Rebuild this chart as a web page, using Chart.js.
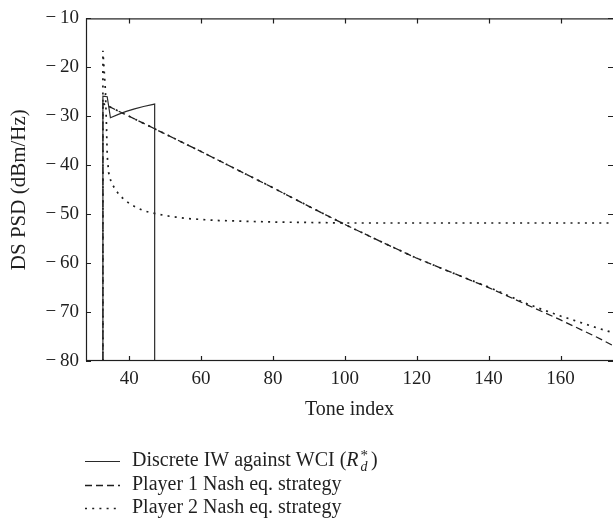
<!DOCTYPE html>
<html><head><meta charset="utf-8">
<script src="https://cdn.jsdelivr.net/npm/chart.js@4/dist/chart.umd.min.js"></script>
<style>html,body{margin:0;padding:0;background:#fff}#wrap{position:relative;width:613px;height:529px}</style>
</head><body><div id="wrap"><canvas id="c" width="613" height="529"></canvas></div>
<script>
// ---- data ----
const xTicks = [40, 60, 80, 100, 120, 140, 160];
const yTicks = [-80, -70, -60, -50, -40, -30, -20, -10];

const iwTone = [32.7, 32.7, 33.9, 34.8, 37.0, 39.2, 41.5, 44.0, 47.1, 47.1];
const iwPsd  = [-80, -25.9, -26.0, -30.3, -29.6, -29.0, -28.5, -28.0, -27.5, -80];

const p1Tone = [32.7, 32.7, 40, 50, 60, 70, 80, 90, 100, 110, 120, 130, 140, 150, 160, 170, 175];
const p1Psd  = [-80, -27.4, -30.0, -33.6, -37.2, -40.9, -44.6, -48.4, -52.1, -55.6, -59.0, -62.0, -65.0, -68.3, -71.6, -75.1, -77.0];

const p2Tone = [32.7, 32.7, 33.0, 33.4, 33.7, 33.9, 34.3, 35.0, 36.2, 37.4, 38.8, 40.4, 42.2, 44.1, 46.1, 48.1, 50.1, 53.0, 56.2, 60.4, 65, 70, 80, 90, 100, 175];
const p2Psd  = [-80, -16.6, -20.0, -24.7, -32.0, -38.0, -41.5, -43.5, -45.0, -46.2, -47.1, -48.0, -48.7, -49.3, -49.7, -50.0, -50.3, -50.6, -50.9, -51.1, -51.3, -51.4, -51.6, -51.7, -51.8, -51.8];

const p2bTone = [32.7, 40, 50, 60, 70, 80, 90, 100, 110, 120, 130, 140, 145, 150, 155, 160, 165, 170, 175];
const p2bPsd  = [-27.4, -30.0, -33.6, -37.2, -40.9, -44.6, -48.4, -52.1, -55.6, -59.0, -62.0, -64.9, -66.5, -68.1, -69.5, -70.8, -72.0, -73.2, -74.3];

const seriesNames = ['Discrete IW against WCI (', 'Player 1 Nash eq. strategy', 'Player 2 Nash eq. strategy'];

// ---- styling ----
const FONT = '"Liberation Serif", "Times New Roman", serif';
const INK = '#1f1f1f';
const pts = (xs, ys) => xs.map((x, i) => ({x, y: ys[i]}));

const solid = [], dashed = [7, 4], dotted = [2, 5.2];

const datasets = [
  {label: seriesNames[0], data: pts(iwTone, iwPsd), borderColor: '#2a2a2a', borderWidth: 1.2, borderDash: solid, inLegend: true, rich: true},
  {label: seriesNames[1], data: pts(p1Tone, p1Psd), borderColor: INK, borderWidth: 1.3, borderDash: dashed, inLegend: true},
  {label: seriesNames[2], data: pts(p2Tone, p2Psd), borderColor: INK, borderWidth: 1.7, borderDash: dotted, inLegend: true},
  {label: seriesNames[2], data: pts(p2bTone, p2bPsd), borderColor: INK, borderWidth: 1.7, borderDash: dotted, inLegend: false}
].map(d => Object.assign({pointRadius: 0, tension: 0, fill: false, borderCapStyle: 'butt'}, d));

const frame = {
  id: 'frame',
  afterDatasetsDraw(chart) {
    const {ctx, chartArea: a, scales: {x, y}} = chart;
    ctx.save();
    ctx.strokeStyle = INK; ctx.lineWidth = 1.2;
    // box: right edge sits just past the canvas edge, as in the reference
    ctx.strokeRect(a.left + 0.5, a.top + 0.5, a.right - a.left + 1, a.bottom - a.top - 1);
    const L = 5;
    ctx.beginPath();
    xTicks.forEach(v => {
      const px = Math.round(x.getPixelForValue(v)) + 0.5;
      ctx.moveTo(px, a.bottom); ctx.lineTo(px, a.bottom - L);
      ctx.moveTo(px, a.top); ctx.lineTo(px, a.top + L);
    });
    yTicks.forEach(v => {
      const py = Math.round(y.getPixelForValue(v)) + 0.5;
      ctx.moveTo(a.left, py); ctx.lineTo(a.left + L, py);
      ctx.moveTo(a.right, py); ctx.lineTo(a.right - L, py);
    });
    ctx.stroke();
    ctx.restore();
  },
  afterDraw(chart) {
    const {ctx} = chart;
    ctx.save();
    const rows = chart.data.datasets.filter(d => d.inLegend);
    const y0 = 461, dy = 23.6, lx0 = 85, lx1 = 120, tx = 132;
    rows.forEach((d, i) => {
      const yy = y0 + i * dy;
      ctx.strokeStyle = d.borderColor; ctx.lineWidth = d.borderWidth;
      ctx.setLineDash(d.borderDash);
      ctx.beginPath(); ctx.moveTo(lx0, Math.round(yy) + 0.5); ctx.lineTo(lx1, Math.round(yy) + 0.5); ctx.stroke();
      ctx.setLineDash([]);
      ctx.fillStyle = INK; ctx.textBaseline = 'middle'; ctx.textAlign = 'left';
      ctx.font = '20px ' + FONT;
      let cx = tx;
      ctx.fillText(d.label, cx, yy);
      cx += ctx.measureText(d.label).width;
      if (d.rich) {
        ctx.font = 'italic 20px ' + FONT;
        ctx.fillText('R', cx, yy); cx += ctx.measureText('R').width + 1;
        ctx.font = 'italic 14px ' + FONT;
        ctx.fillText('d', cx + 1, yy + 6);
        const wd = ctx.measureText('d').width;
        ctx.font = '15px ' + FONT;
        ctx.fillText('*', cx + 1, yy - 5);
        cx += Math.max(wd, ctx.measureText('*').width) + 4;
        ctx.font = '20px ' + FONT;
        ctx.fillText(')', cx, yy);
      }
    });
    ctx.restore();
  }
};

new Chart(document.getElementById('c'), {
  type: 'line',
  data: {datasets},
  options: {
    responsive: false, animation: false, devicePixelRatio: 1,
    layout: {padding: {top: 10, right: 0, left: 0, bottom: 0}},
    plugins: {legend: {display: false}, tooltip: {enabled: false}},
    scales: {
      x: {
        type: 'linear', min: 28, max: 174.6,
        afterBuildTicks: s => { s.ticks = xTicks.map(v => ({value: v})); },
        afterFit: s => { s.height = 168; },
        grid: {display: false, drawTicks: false}, border: {display: false},
        ticks: {font: {family: FONT, size: 19}, color: INK, padding: 7, maxRotation: 0, autoSkip: false},
        title: {display: true, text: 'Tone index', font: {family: FONT, size: 20}, color: INK, padding: {top: 0, bottom: 107}}
      },
      y: {
        type: 'linear', min: -80, max: -10,
        afterBuildTicks: s => { s.ticks = yTicks.map(v => ({value: v})); },
        afterFit: s => { s.width = 86; },
        grid: {display: false, drawTicks: false}, border: {display: false},
        ticks: {font: {family: FONT, size: 19}, color: INK, padding: 7, autoSkip: false,
          callback: v => (v < 0 ? '\u2212\u2009' : '') + Math.abs(v)},
        title: {display: true, text: 'DS PSD (dBm/Hz)', font: {family: FONT, size: 21}, color: INK, padding: {top: 7, bottom: 0}}
      }
    }
  },
  plugins: [frame]
});
</script></body></html>
